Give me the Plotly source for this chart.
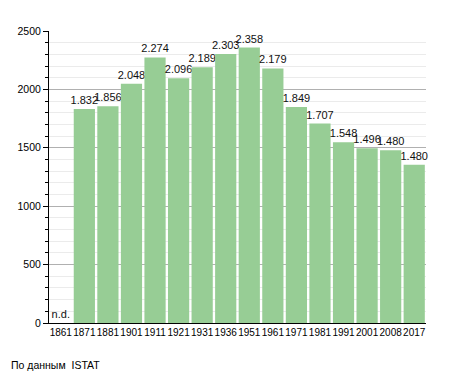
import plotly.graph_objects as go

years = ["1861", "1871", "1881", "1901", "1911", "1921", "1931", "1936",
         "1951", "1961", "1971", "1981", "1991", "2001", "2008", "2017"]
population = [0, 1832, 1856, 2048, 2274, 2096, 2189, 2303,
              2358, 2179, 1849, 1707, 1548, 1496, 1480, 1355]
labels = ["n.d.", "1.832", "1.856", "2.048", "2.274", "2.096", "2.189", "2.303",
          "2.358", "2.179", "1.849", "1.707", "1.548", "1.496", "1.480", "1.480"]
y_ticks = [0, 500, 1000, 1500, 2000, 2500]

fig = go.Figure()
fig.add_trace(go.Bar(
    x=years, y=population, text=labels, textposition="outside",
    textangle=0, constraintext="none",
    textfont=dict(size=11, color="#111"),
    marker=dict(color="#97cd95", line=dict(width=0)),
    cliponaxis=False,
))

fig.update_layout(
    width=455, height=373,
    margin=dict(l=49, r=29, t=31, b=50),
    paper_bgcolor="white", plot_bgcolor="white",
    font=dict(family="Liberation Sans, Arial, sans-serif", size=11, color="#000"),
    bargap=0.1,
    showlegend=False,
    annotations=[dict(text="По данным  ISTAT", xref="paper", yref="paper",
                      x=-0.105, y=-0.115, xanchor="left", yanchor="top",
                      showarrow=False, font=dict(size=10.5, color="#000"))],
)
fig.update_xaxes(
    type="category", showline=True, linecolor="#000", linewidth=1,
    ticks="", tickangle=0, tickfont=dict(size=10), showgrid=False,
    automargin=False,
)
fig.update_yaxes(
    range=[0, 2500], tickvals=y_ticks, showline=True, linecolor="#000", linewidth=1,
    ticks="outside", ticklen=5, tickcolor="#000",
    showgrid=True, gridcolor="#b0b0b0", gridwidth=1,
    minor=dict(dtick=100, ticks="outside", ticklen=3, tickcolor="#000",
               showgrid=True, gridcolor="#ebebeb"),
    zeroline=False, tickfont=dict(size=10.5), automargin=False,
)

fig.write_html("out.html", config={"displayModeBar": False},
               post_script="document.body.style.margin='0';document.body.style.overflow='hidden';")
